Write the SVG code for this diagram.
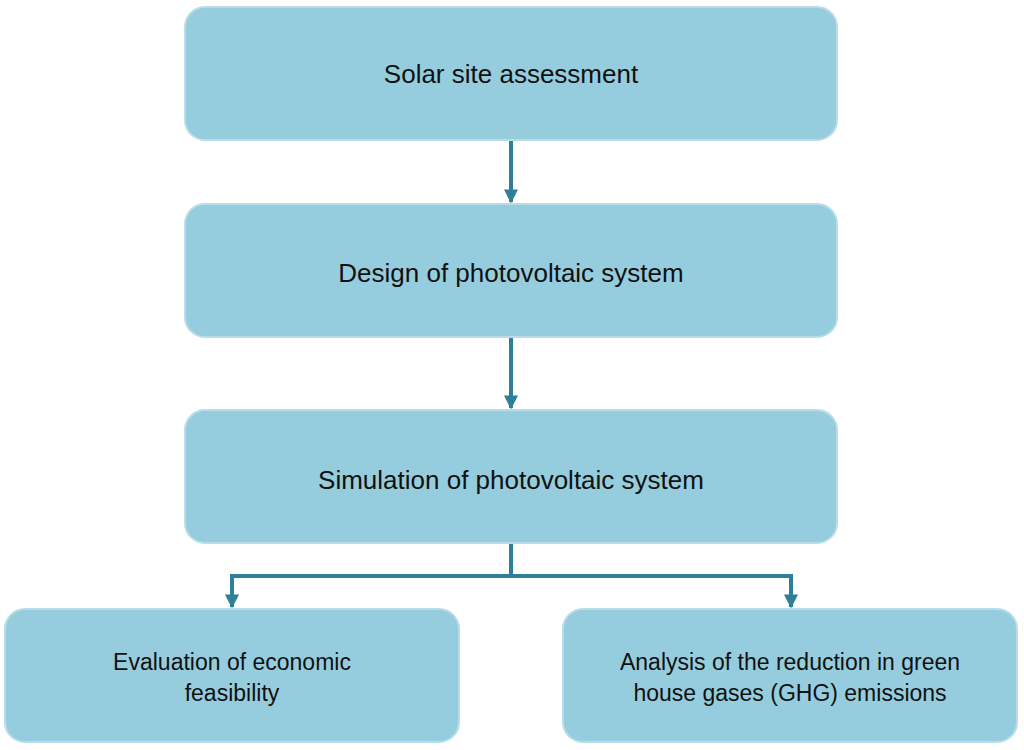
<svg xmlns="http://www.w3.org/2000/svg" width="1024" height="750" viewBox="0 0 1024 750">
<defs>
<style>
.box{fill:#96CDDE;stroke:#B8DDE8;stroke-width:2}
.t{font-family:"Liberation Sans",Arial,sans-serif;font-size:26px;fill:#111;text-anchor:middle}
.tb{font-family:"Liberation Sans",Arial,sans-serif;font-size:23px;fill:#111;text-anchor:middle}
.c{fill:none;stroke:#2E8099;stroke-width:4}
</style>
<marker id="a" viewBox="0 0 10 10" refX="9" refY="5" markerWidth="3.5" markerHeight="3.5" orient="auto"><path d="M0,0L10,5L0,10z" fill="#2E8099"/></marker>
</defs>
<rect width="1024" height="750" fill="#fff"/>
<g id="connectors">
<path class="c" d="M511,141V202" marker-end="url(#a)"/>
<path class="c" d="M511,338V408" marker-end="url(#a)"/>
<path class="c" d="M511,544V576H232V607" marker-end="url(#a)"/>
<path class="c" d="M511,576H791V607" marker-end="url(#a)"/>
</g>
<g id="n1"><rect class="box" x="185" y="7" width="652" height="133" rx="20"/><text class="t" x="511" y="83">Solar site assessment</text></g>
<g id="n2"><rect class="box" x="185" y="204" width="652" height="133" rx="20"/><text class="t" x="511" y="282">Design of photovoltaic system</text></g>
<g id="n3"><rect class="box" x="185" y="410" width="652" height="133" rx="20"/><text class="t" x="511" y="489">Simulation of photovoltaic system</text></g>
<g id="n4"><rect class="box" x="5" y="609" width="454" height="133" rx="20"/><text class="tb" x="232" y="670">Evaluation of economic</text><text class="tb" x="232" y="701">feasibility</text></g>
<g id="n5"><rect class="box" x="563" y="609" width="454" height="133" rx="20"/><text class="tb" x="790" y="670">Analysis of the reduction in green</text><text class="tb" x="790" y="701">house gases (GHG) emissions</text></g>
</svg>
